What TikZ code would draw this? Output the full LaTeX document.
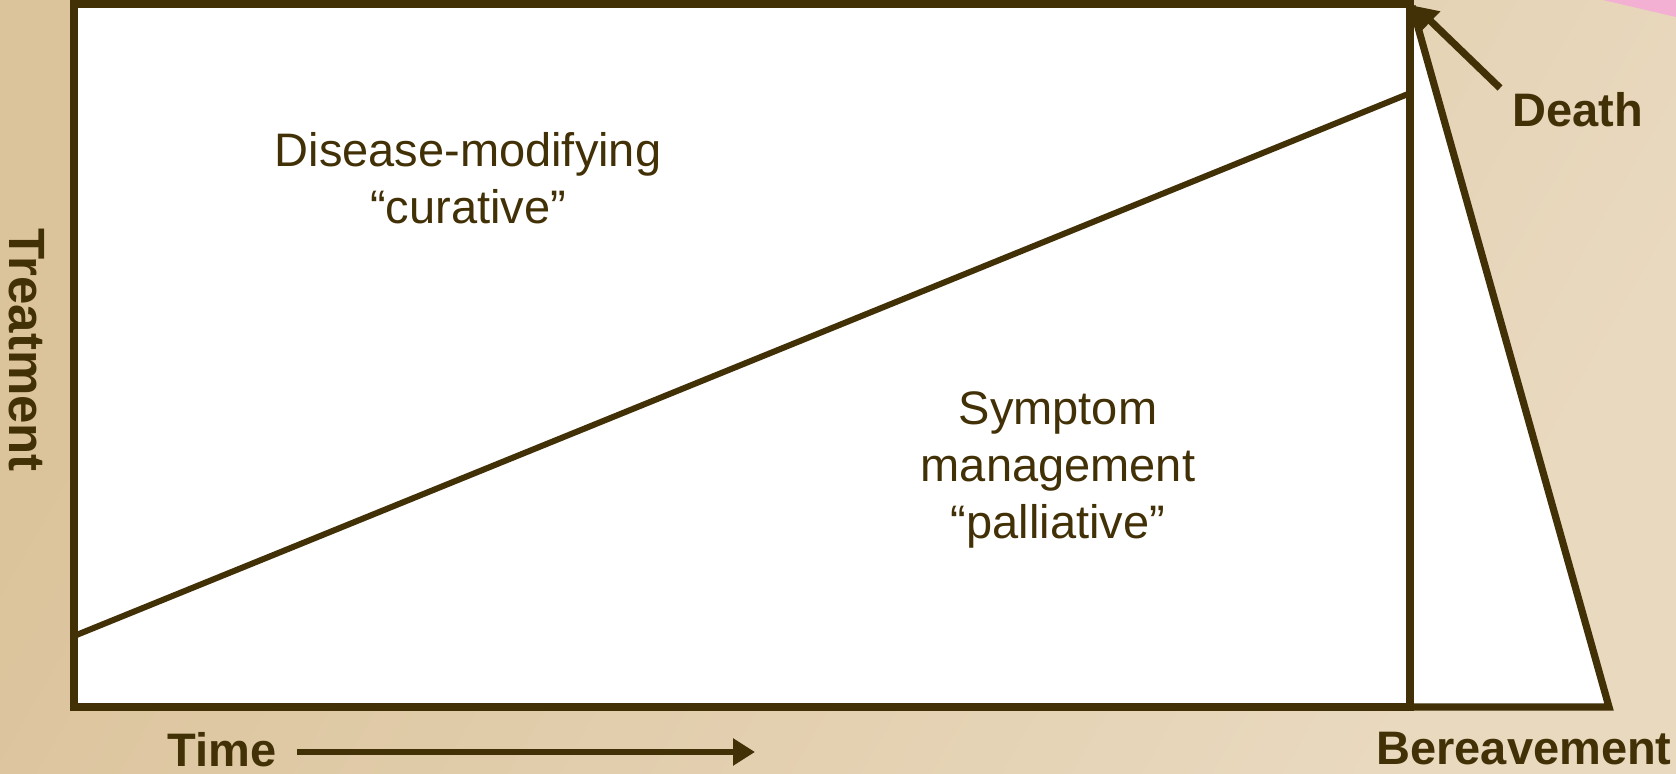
\documentclass[tikz,border=0pt]{standalone}
\usepackage{fontspec}
\setmainfont{Liberation Sans}
\usetikzlibrary{arrows.meta}
\definecolor{ink}{RGB}{66,48,6}
\definecolor{bgL}{RGB}{219,195,155}
\definecolor{bgR}{RGB}{233,217,191}
\definecolor{pinkband}{RGB}{243,176,210}
\tikzset{
  frame/.style={draw=ink, line width=4pt, line join=miter},
  thin/.style={draw=ink, line width=3pt},
  lbl/.style={text=ink, font=\fontsize{23.5pt}{28.5pt}\selectfont, align=center, inner sep=0pt},
  blbl/.style={text=ink, font=\bfseries\fontsize{23.5pt}{28pt}\selectfont, inner sep=0pt},
  arr/.style={draw=ink, line width=3.6pt, -{Triangle[length=11pt,width=13pt]}},
}
\begin{document}
\begin{tikzpicture}[x=0.5pt,y=-0.5pt]
\path[use as bounding box] (0,0) rectangle (1676,774);
\shade[left color=bgL, right color=bgR, shading angle=60] (0,0) rectangle (1676,774);
\fill[pinkband] (1603,0) -- (1676,0) -- (1676,17) -- cycle;
% boxes
\fill[white] (74,4) rectangle (1410,707);
\fill[white] (1410,4) -- (1609,707) -- (1410,707) -- cycle;
\draw[thin] (74,636) -- (1408,94);
\draw[frame] (74,4) rectangle (1410,707);
\draw[frame, line width=3.6pt] (1412,6) -- (1609,707) -- (1410,707);
% labels
\node[lbl] (curative) at (468,178) {Disease-modifying\\“curative”};
\node[lbl] (palliative) at (1058,470) {Symptom\\management\\“palliative”};
\node[blbl, font=\bfseries\fontsize{25.5pt}{30pt}\selectfont, rotate=-90] (treat) at (27,350) {Treatment};
\node[blbl] (death) at (1578,110) {Death};
\node[blbl] (time) at (222,750) {Time};
\node[blbl] (bereave) at (1524,749) {Bereavement};
\coordinate (apex) at (1415,6);
\coordinate (timeend) at (755,752);
\draw[arr] (1500,88) -- (apex);
\draw[arr, line width=3.4pt] (time.east) ++(20,2) coordinate (tstart) (tstart) -- (timeend);
\end{tikzpicture}
\end{document}
